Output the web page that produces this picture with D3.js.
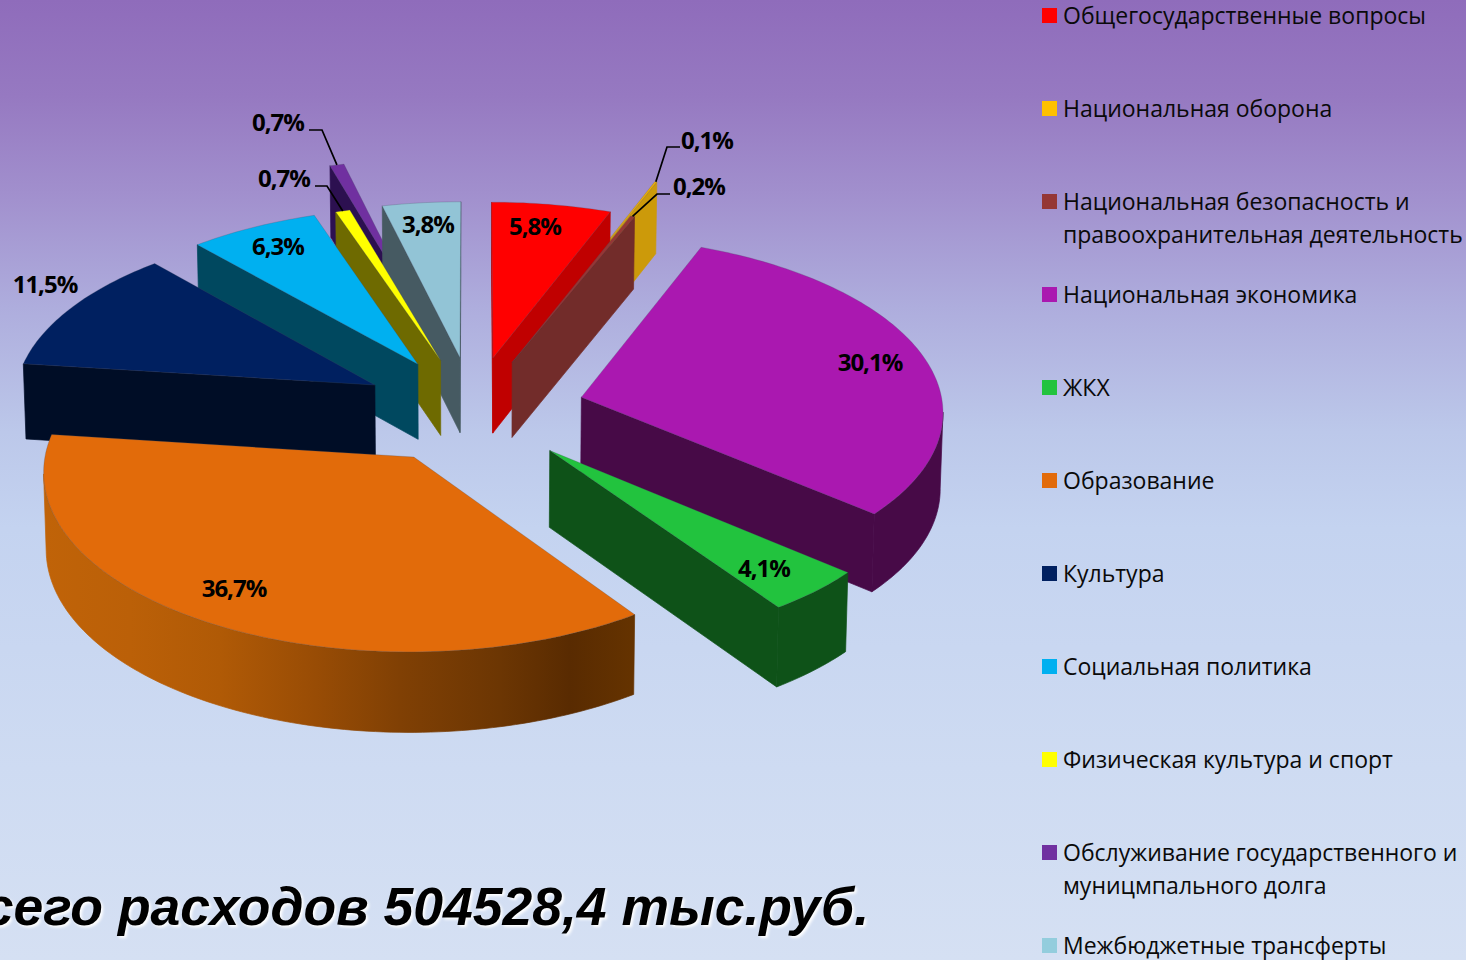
<!DOCTYPE html>
<html lang="ru"><head><meta charset="utf-8">
<style>html,body{margin:0;padding:0;overflow:hidden;width:1466px;height:960px}svg{display:block}</style>
<script src="https://cdn.jsdelivr.net/npm/d3@7/dist/d3.min.js"></script></head><body>
<script>
const categories = ["Общегосударственные вопросы","Национальная оборона","Национальная безопасность и правоохранительная деятельность","Национальная экономика","ЖКХ","Образование","Культура","Социальная политика","Физическая культура и спорт","Обслуживание государственного и муниципального долга","Межбюджетные трансферты"];
const legendLines = [["Общегосударственные вопросы"],["Национальная оборона"],["Национальная безопасность и","правоохранительная деятельность"],["Национальная экономика"],["ЖКХ"],["Образование"],["Культура"],["Социальная политика"],["Физическая культура и спорт"],["Обслуживание государственного и","муницмпального долга"],["Межбюджетные трансферты"]];
const values = [5.8,0.1,0.2,30.1,4.1,36.7,11.5,6.3,0.7,0.7,3.8];
const valueLabels = ["5,8%","0,1%","0,2%","30,1%","4,1%","36,7%","11,5%","6,3%","0,7%","0,7%","3,8%"];
const explode = [.31,.55,.30,.31,.31,.31,.31,.31,.305,.62,.31];
const topColors = ["#ff0000","#f2b200","#953735","#aa18b0","#22c33e","#e26b0a","#002060","#00b0f0","#ffff00","#7030a0","#92c4d6"];
const legendColors = ["#ff0000","#ffc000","#953735","#aa18b0","#22c33e","#e26b0a","#002060","#00b0f0","#ffff00","#7030a0","#93cddd"];
const wallColors = ["#c00000","#cc9a0a","#722c2a","#470a47","#0e5218","#5a2c01","#000d26","#00485f","#6e6a00","#2c1050","#465a62"];
const labelAt = [[535,226],[707,140],[699,186],[870,362],[764,568],[234,588],[45,284],[278,246],[284,178],[278,122],[428,224]];
const leaders = {1:[[680,147],[667,147]],2:[[670,194],[657,194]],8:[[315,186],[327,186]],9:[[309,130],[322,130]]};
const bgStops = [[0,"#8f6cbb"],[.1,"#9679c1"],[.2,"#a18fcd"],[.32,"#aeaddd"],[.45,"#bcc8ea"],[.55,"#c4d3f0"],[.8,"#cedbf2"],[1,"#d5e0f3"]];
const orangeStops = [[44,"#c06308"],[130,"#bb6008"],[220,"#b05a06"],[310,"#9a4d05"],[400,"#804004"],[500,"#6c3603"],[570,"#592b01"],[635,"#653300"]];

const W=1466,H=960, CX=473,CY=410,RX=362,RY=174,K=.071,H0=76;
const svg=d3.select("body").append("svg").attr("width",W).attr("height",H);
const defs=svg.append("defs");
const bg=defs.append("linearGradient").attr("id","bg").attr("x1",0).attr("x2",0).attr("y1",0).attr("y2",1);
bgStops.forEach(s=>bg.append("stop").attr("offset",s[0]).attr("stop-color",s[1]));
svg.append("rect").attr("width",W).attr("height",H).attr("fill","url(#bg)");
const og=defs.append("linearGradient").attr("id","og").attr("gradientUnits","userSpaceOnUse").attr("x1",44).attr("x2",635).attr("y1",0).attr("y2",0);
orangeStops.forEach(s=>og.append("stop").attr("offset",(s[0]-44)/591).attr("stop-color",s[1]));

const uS=d3.scaleLinear().domain([0,1]).range([0,RX]);
const vS=d3.scaleLinear().domain([0,1]).range([0,RY]);
function proj(u,v){const s=1/(1+K*v);return {x:CX+uS(u)*s,y:CY-vS(v)*s,s};}
function topPt(p){return [p.x,p.y];}
function botPt(p){return [CX+(p.x-CX)*.994,p.y+H0*(1+(p.s-1)*.6)];}
const line=d3.line();
const poly=pts=>line(pts)+"Z";
const arcs=d3.pie().sort(null).startAngle(0).endAngle(2*Math.PI).value(d=>d)(values);
const slices=arcs.map((a,i)=>{
  const m=(a.startAngle+a.endAngle)/2,e=explode[i];
  const ou=e*Math.sin(m),ov=e*Math.cos(m);
  const at=t=>proj(ou+Math.sin(t),ov+Math.cos(t));
  return {i,a,m,e,ou,ov,at,apex:proj(ou,ov)};
});
const g=svg.append("g");
slices.slice().sort((p,q)=>q.ov-p.ov).forEach(S=>{
  const {i,a,at,apex}=S;
  const sl=g.append("g");
  const n=Math.max(2,Math.ceil((a.endAngle-a.startAngle)/.02));
  const ts=d3.range(n+1).map(k=>a.startAngle+(a.endAngle-a.startAngle)*k/n);
  const front=ts.filter(t=>Math.cos(t)<-.08);
  const wallFill=i===5?"url(#og)":wallColors[i];
  if(front.length>1){
    const tp=front.map(t=>at(t));
    sl.append("path").attr("d",poly(tp.map(topPt).concat(tp.map(botPt).reverse()))).attr("fill",wallFill).attr("stroke",wallFill).attr("stroke-width",.7);
  }
  [[a.startAngle,-1],[a.endAngle,1]].forEach(([t,sgn])=>{
    const o=at(t),A=topPt(apex),O=topPt(o),B=botPt(o),C=botPt(apex);
    const cross=(O[0]-A[0])*(B[1]-O[1])-(O[1]-A[1])*(B[0]-O[0]);
    if(cross*sgn>0) sl.append("path").attr("d",poly([A,O,B,C])).attr("fill",wallColors[i]).attr("stroke",wallColors[i]).attr("stroke-width",.7);
  });
  sl.append("path").attr("d",poly([topPt(apex)].concat(ts.map(t=>topPt(at(t))))))
    .attr("fill",topColors[i]).attr("stroke","rgba(70,80,100,.35)").attr("stroke-width",.7).attr("stroke-linejoin","round");
});
// leaders
Object.keys(leaders).forEach(k=>{
  const S=slices[+k],o=S.at(S.m);
  g.append("path").attr("d",line(leaders[k].concat([topPt(o)]))).attr("fill","none").attr("stroke","#000").attr("stroke-width",1.7);
});
// labels
const FF="'Open Sans','Noto Sans',sans-serif";
svg.append("g").selectAll("text").data(valueLabels).join("text")
  .attr("x",(d,i)=>labelAt[i][0]).attr("y",(d,i)=>labelAt[i][1]+8.5)
  .attr("text-anchor","middle").attr("font-family",FF).attr("font-weight",700).attr("font-size",24).attr("letter-spacing",-1)
  .attr("fill","#000").text(d=>d);
// legend
const rowY=d3.scaleLinear().domain([0,10]).range([16,946]);
const lg=svg.append("g").selectAll("g").data(categories).join("g").attr("transform",(d,i)=>`translate(1042,${rowY(i)})`);
lg.append("rect").attr("y",-8).attr("width",15).attr("height",15).attr("fill",(d,i)=>legendColors[i]);
lg.each(function(d,i){
  d3.select(this).selectAll("text").data(legendLines[i]).join("text")
   .attr("x",21).attr("y",(t,j)=>8+j*32.5).attr("font-family",FF).attr("font-size",23).attr("fill","#0a0a0a").text(t=>t);
});
// title
svg.append("text").attr("x",869).attr("y",925).attr("text-anchor","end")
  .attr("font-family","'Liberation Sans',Arial,sans-serif").attr("font-weight",700).attr("font-style","italic").attr("font-size",53.5)
  .style("text-shadow","2px 2px 3px #fff").attr("fill","#000").text("Всего расходов 504528,4 тыс.руб.");
</script></body></html>
